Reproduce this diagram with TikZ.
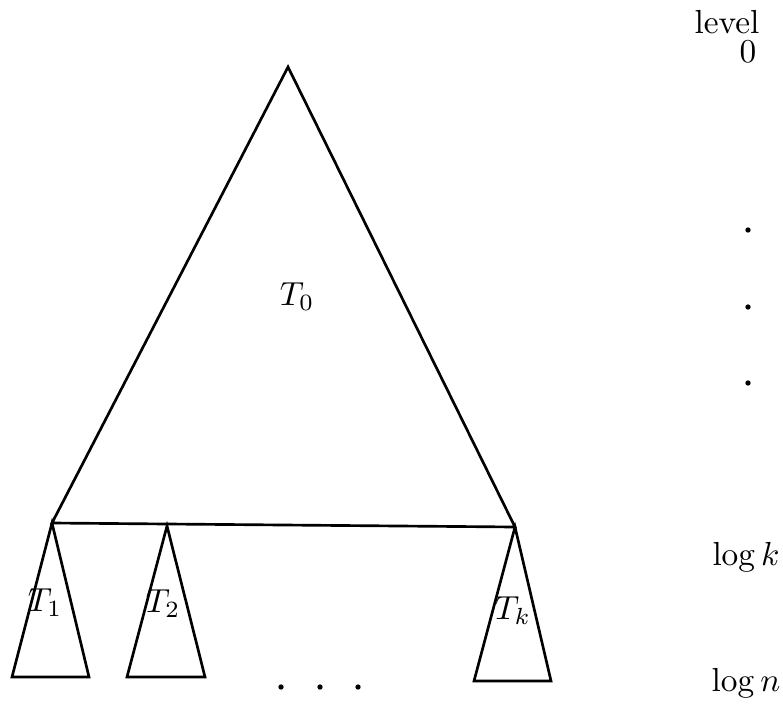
\documentclass[tikz,border=0pt]{standalone}
\usepackage{amsmath,amssymb}
\usepackage{tikz}
\usetikzlibrary{positioning}

\begin{document}
\begin{tikzpicture}[
  x=0.3pt, y=-0.3pt,
  tri/.style  = {draw, line width=0.8pt, line join=miter},
  lbl/.style  = {inner sep=0pt},
  dot/.style  = {fill, circle, inner sep=0pt, minimum size=1.6pt}
]
\useasboundingbox (0,0) rectangle (783,704);
%% Top tree T0
\coordinate (top) at (288,67);
\coordinate (bl)  at (52,523);
\coordinate (br)  at (515,527);
\draw[tri] (top)--(bl)--(br)--cycle;
\node[lbl] (t0) at (297,297) {$T_0$};
%% Bottom trees
\coordinate (a1) at (52,523);  \coordinate (l1) at (12,677);  \coordinate (r1) at (89,677);
\coordinate (a2) at (167,526); \coordinate (l2) at (127,677); \coordinate (r2) at (205,677);
\coordinate (ak) at (515,527); \coordinate (lk) at (474,681); \coordinate (rk) at (551,681);
\draw[tri] (a1)--(l1)--(r1)--cycle;
\draw[tri] (a2)--(l2)--(r2)--cycle;
\draw[tri] (ak)--(lk)--(rk)--cycle;
\node[lbl] (t1) at (45,603)  {$T_1$};
\node[lbl] (t2) at (163,604) {$T_2$};
\node[lbl] (tk) at (513,611) {$T_k$};
%% Dots between subtrees
\foreach \x/\nm in {281/d1,320/d2,358/d3}{
  \node[dot] (\nm) at (\x,687) {};}
%% Level column
\node[lbl] (lev) at (727,22)  {level};
\node[lbl] (l0)  at (748,52)  {$0$};
\foreach \y/\nm in {230/v1,307/v2,383/v3}{
  \node[dot] (\nm) at (748,\y) {};}
\node[lbl] (lk)  at (746,557) {$\log k$};
\node[lbl] (ln)  at (746,683) {$\log n$};
\end{tikzpicture}
\end{document}
